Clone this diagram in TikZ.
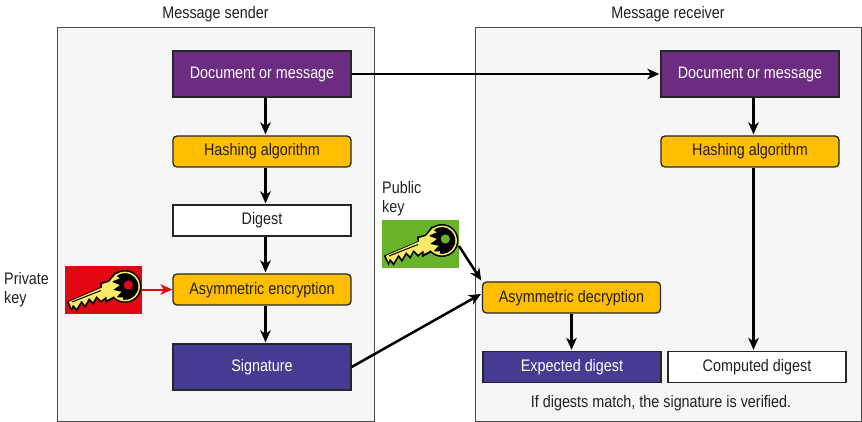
\documentclass[tikz,border=0pt]{standalone}
\usepackage{fontspec}
\setmainfont[FakeStretch=0.86]{Liberation Sans}
\definecolor{panelbg}{HTML}{F6F6F6}
\definecolor{purp}{HTML}{6C2C82}
\definecolor{gold}{HTML}{FFBF00}
\definecolor{indig}{HTML}{463B93}
\definecolor{keyred}{HTML}{E30613}
\definecolor{keygreen}{HTML}{69B32A}
\definecolor{keyyel}{HTML}{FCE96A}
\definecolor{txt}{HTML}{231F20}
\usetikzlibrary{arrows.meta}
\tikzset{
  x=1pt,y=-1pt,
  every node/.style={font=\fontsize{16.7}{19}\selectfont,text=txt,inner sep=0pt},
  panel/.style={draw=black!70,line width=1pt,fill=panelbg},
  boxbase/.style={draw=black!85,line width=1.3pt,minimum width=178pt,anchor=center,text height=12pt,text depth=3pt},
  purpbox/.style={boxbase,fill=purp,text=white,minimum height=46pt},
  goldbox/.style={boxbase,fill=gold,rounded corners=4pt,minimum height=31pt},
  whitebox/.style={boxbase,fill=white,minimum height=31pt},
  indigbox/.style={boxbase,fill=indig,text=white,minimum height=46pt},
  arr/.style={draw=black,line width=2.5pt,shorten >=1pt,-{Stealth[length=12pt,width=10.5pt,inset=3.5pt]}},
  keyarr/.style={draw=keyred,line width=2pt,-{Stealth[length=12pt,width=10.5pt,inset=3.5pt]}},
  lab/.style={align=left,anchor=west},
  pics/keyicon/.style={code={
    \fill[#1] (0,0) rectangle (77,48);
    \fill[black] (1.7,35.7) -- (35.7,21.3) -- (35,16.7) -- (43.3,14.7) -- (50,6) -- (60,20) -- (48.3,33) -- (40,37.3) -- (40,33.3)
      -- (36,37) -- (31.7,32.3) -- (28.5,39) -- (24.3,35) -- (20,42.3) -- (16.7,37.3) -- (11.7,45.7) -- (8,41.5) -- (6.7,45.7) -- cycle;
    \fill[black] (60,20.5) circle[radius=16.5];
    \fill[keyyel] (3.8,35.8) -- (37,21.6) -- (37,18) -- (44,16) -- (51,8) -- (60,20) -- (47.5,31) -- (41.5,34) -- (41.5,30.5)
      -- (36,34.5) -- (31.5,29.8) -- (28,36) -- (24,32) -- (20,39) -- (16.5,34.5) -- (11.5,42.5) -- (8,38.5) -- (6.5,42) -- cycle;
    \fill[keyyel] (60,20.5) circle[radius=14.9];
    \draw[black,line width=1pt] (7,36) -- (36,24.5);
    \begin{scope}
      \clip (60,20.5) circle[radius=13.3];
      \fill[black] (50,0) -- (50,9) -- (55,12.3) -- (46.7,15.7) -- (55,19) -- (48.3,24) -- (56.7,25.7) -- (51.7,31.3) -- (58.3,31.3) -- (56.7,40) -- (80,40) -- (80,0) -- cycle;
    \end{scope}
    \fill[#1] (63.3,19) circle[radius=4.6];
  }}
}
\begin{document}
\begin{tikzpicture}
\useasboundingbox (0,0) rectangle (862,422);
\fill[white] (0,0) rectangle (862,422);
\draw[panel] (57,27.5) rectangle (374,421.5);
\draw[panel] (475,27.5) rectangle (861.5,421.5);
\node (sendlab) at (215.5,14) {Message sender};
\node (recvlab) at (668,14) {Message receiver};
\node[purpbox] (sdoc) at (262,74) {Document or message};
\node[goldbox] (shash) at (262,151.5) {Hashing algorithm};
\node[whitebox] (sdig) at (262,220.5) {Digest};
\node[goldbox] (senc) at (262,289.5) {Asymmetric encryption};
\node[indigbox] (ssig) at (262,367) {Signature};
\node[purpbox] (rdoc) at (750,74) {Document or message};
\node[goldbox] (rhash) at (750,151.5) {Hashing algorithm};
\node[goldbox] (rdec) at (571.5,297.5) {Asymmetric decryption};
\node[boxbase,fill=indig,text=white,minimum height=31pt] (rexp) at (572,367) {Expected digest};
\node[boxbase,fill=white,minimum height=31pt] (rcomp) at (757,367) {Computed digest};
\node (note) at (661,403) {If digests match, the signature is verified.};
\node[lab] (privlab) at (4,290) {\begin{tabular}{@{}l@{}}Private\\[0.5pt]key\end{tabular}};
\node[lab] (publab) at (382,199) {\begin{tabular}{@{}l@{}}Public\\[0.5pt]key\end{tabular}};
\pic at (65,266) {keyicon=keyred};
\pic at (382,220) {keyicon=keygreen};
\coordinate (privkey) at (142,289.5);
\coordinate (pubkey) at (459,246);
\draw[arr] ([xshift=3.5pt]sdoc.south) -- ([xshift=3.5pt]shash.north);
\draw[arr] ([xshift=3.5pt]shash.south) -- ([xshift=3.5pt]sdig.north);
\draw[arr] ([xshift=3.5pt]sdig.south) -- ([xshift=3.5pt]senc.north);
\draw[arr] ([xshift=3.5pt]senc.south) -- ([xshift=3.5pt]ssig.north);
\draw[arr] (sdoc) -- (rdoc);
\draw[arr] ([xshift=3.5pt]rdoc.south) -- ([xshift=3.5pt]rhash.north);
\draw[arr] ([xshift=3.5pt]rhash.south) -- ([xshift=3.5pt]rhash.south |- rcomp.north);
\draw[arr] (rdec.south) -- (rdec.south |- rexp.north);
\draw[keyarr] (privkey) -- (senc);
\draw[arr] (pubkey) -- (rdec.north west);
\draw[arr] (ssig.east) -- ([yshift=4pt]rdec.west);
\end{tikzpicture}
\end{document}
